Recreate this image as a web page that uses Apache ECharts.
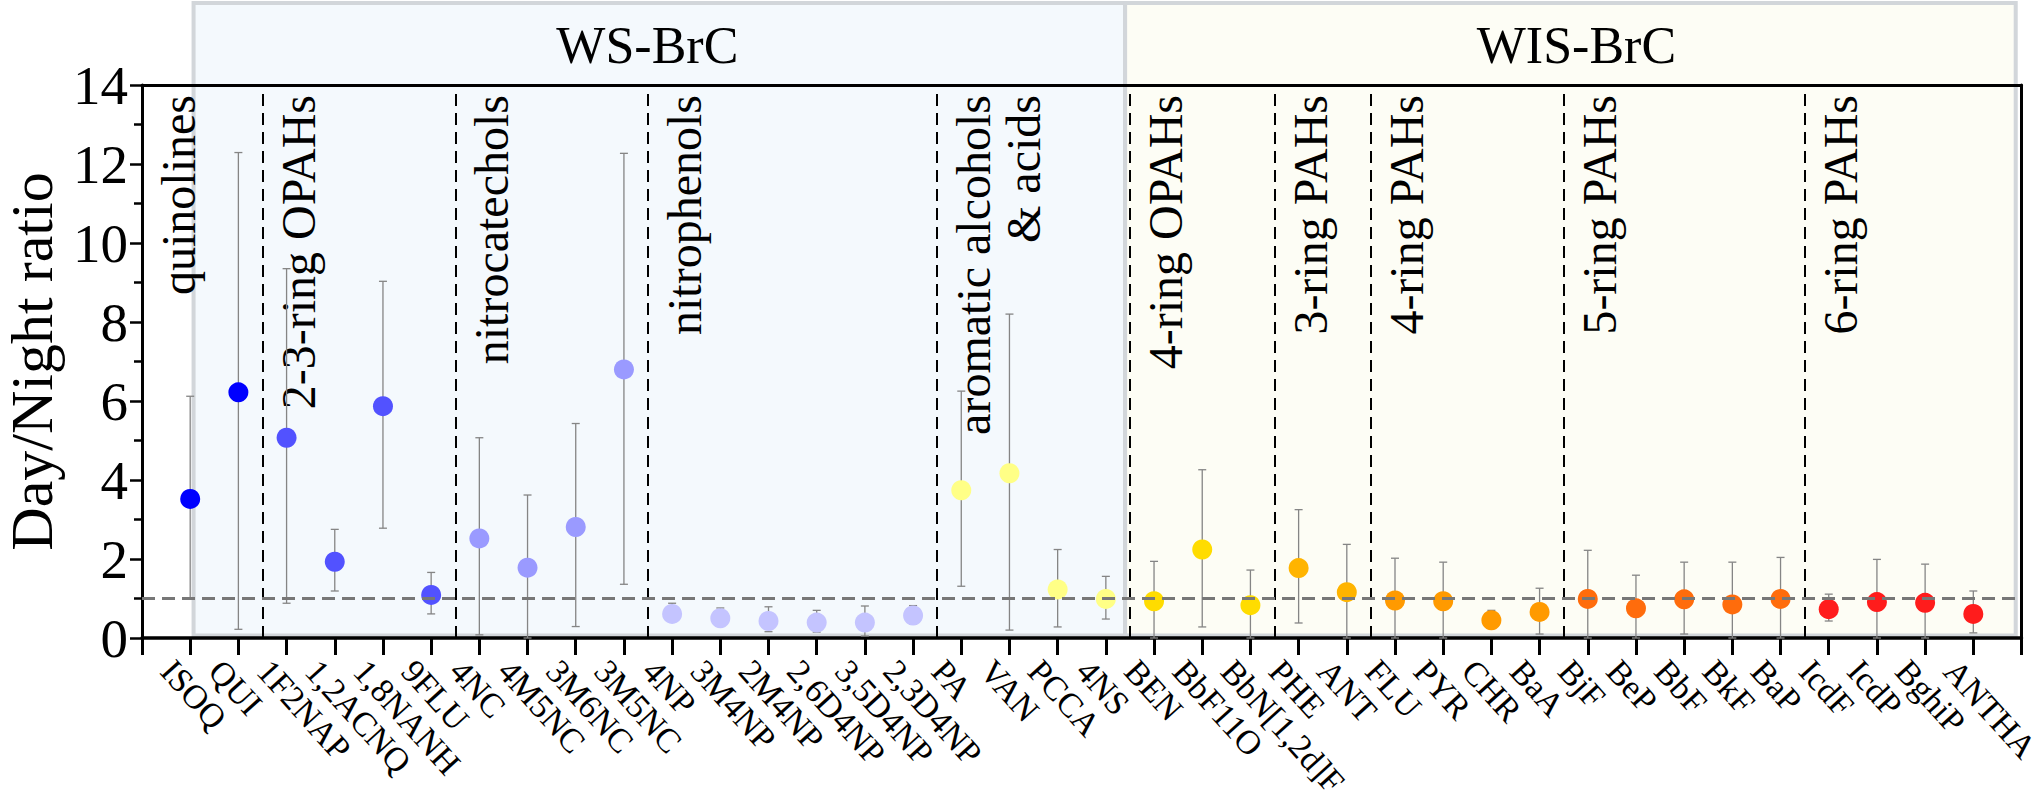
<!DOCTYPE html>
<html><head><meta charset="utf-8">
<script src="https://cdn.jsdelivr.net/npm/echarts@6/dist/echarts.min.js"></script>
<style>html,body{margin:0;padding:0;background:#fff}#c{width:2043px;height:807px}</style>
</head><body><div id="c"></div>
<script>
const categories = ['ISOQ','QUI','1F2NAP','1,2ACNQ','1,8NANH','9FLU','4NC','4M5NC','3M6NC','3M5NC','4NP','3M4NP','2M4NP','2,6D4NP','3,5D4NP','2,3D4NP','PA','VAN','PCCA','4NS','BEN','BbF11O','BbN[1,2d]F','PHE','ANT','FLU','PYR','CHR','BaA','BjF','BeP','BbF','BkF','BaP','IcdF','IcdP','BghiP','ANTHA'];
const ratio = [3.52,6.22,5.07,1.93,5.87,1.09,2.52,1.78,2.81,6.80,0.61,0.50,0.43,0.39,0.39,0.57,3.74,4.17,1.23,0.99,0.93,2.24,0.83,1.77,1.16,0.95,0.93,0.45,0.66,0.99,0.75,0.98,0.85,0.99,0.73,0.91,0.89,0.61];
const upper = [6.12,12.29,9.35,2.75,9.03,1.66,5.07,3.62,5.43,12.27,0.88,0.76,0.79,0.70,0.81,0.82,6.25,8.20,2.24,1.56,1.94,4.26,1.72,3.25,2.37,2.02,1.92,0.70,1.26,2.22,1.59,1.92,1.92,2.04,1.11,1.99,1.87,1.19];
const lower = [1.01,0.22,0.88,1.19,2.78,0.61,0.08,0.00,0.29,1.36,0.40,0.34,0.16,0.15,0.05,0.36,1.31,0.20,0.28,0.48,0.00,0.28,0.00,0.38,0.00,0.00,0.00,0.24,0.10,0.00,0.00,0.10,0.00,0.00,0.43,0.00,0.00,0.13];
const groupNames = ['quinolines','2-3-ring OPAHs','nitrocatechols','nitrophenols','aromatic alcohols\n& acids','4-ring OPAHs','3-ring PAHs','4-ring PAHs','5-ring PAHs','6-ring PAHs'];
const groupSizes = [2,4,4,6,4,3,2,4,5,4];
const regionNames = ['WS-BrC','WIS-BrC'];
const regionGroupCounts = [5,5];
const yTickValues = [0,2,4,6,8,10,12,14];
const referenceRatio = 1;

const groupColors = ['#0000ff','#5252ff','#9a9aff','#c4c4ff','#ffff86','#ffdc00','#ffb400','#ff9a00','#ff6c0c','#ff1c1c'];
const FONT = '"Liberation Serif", "Times New Roman", serif';

// derived
const groupStart = []; const groupOf = [];
let acc = 1;
groupSizes.forEach((s, g) => { groupStart.push(acc); for (let k = 0; k < s; k++) groupOf.push(g); acc += s; });
const nCat = categories.length;
const separators = groupStart.slice(1).map(s => s - 0.5);
const groupLeft = groupStart.map((s, g) => g === 0 ? 0 : s - 0.5);
const regionBounds = [];
let gi = 0;
regionGroupCounts.forEach((c, r) => {
  const first = groupStart[gi]; const lastG = gi + c - 1;
  const last = groupStart[lastG] + groupSizes[lastG] - 1;
  regionBounds.push([first - 0.5, last + 0.5]);
  gi += c;
});

const chart = echarts.init(document.getElementById('c'), null, {renderer: 'svg'});
const yMax = yTickValues[yTickValues.length - 1];
const LABEL_ANGLE = 48 * Math.PI / 180;

const option = {
  animation: false,
  backgroundColor: '#ffffff',
  grid: {left: 142, right: 21.5, top: 85, bottom: 169, containLabel: false, outerBoundsMode: 'none'},
  xAxis: [{
    type: 'value', min: 0, max: nCat + 1, interval: 1, position: 'bottom',
    axisLine: {show: true, onZero: false, lineStyle: {color: '#000', width: 3.5}},
    axisTick: {show: true, length: 17, lineStyle: {color: '#000', width: 3}},
    axisLabel: {show: false},
    splitLine: {show: false}
  }, {
    type: 'value', min: 0, max: nCat + 1, position: 'top',
    axisLine: {show: true, onZero: false, lineStyle: {color: '#000', width: 3}},
    axisTick: {show: false}, axisLabel: {show: false}, splitLine: {show: false}
  }],
  yAxis: [{
    type: 'value', min: 0, max: yMax, interval: 2, position: 'left',
    name: 'Day/Night ratio', nameLocation: 'middle', nameGap: 74,
    nameTextStyle: {color: '#000', fontSize: 60, fontFamily: FONT},
    axisLine: {show: true, onZero: false, lineStyle: {color: '#000', width: 3}},
    axisTick: {show: true, length: 12, lineStyle: {color: '#000', width: 2.5}},
    minorTick: {show: true, splitNumber: 2, length: 8, lineStyle: {color: '#000', width: 2.5}},
    axisLabel: {color: '#000', fontSize: 55, fontFamily: FONT, margin: 14},
    splitLine: {show: false}, minorSplitLine: {show: false}
  }, {
    type: 'value', min: 0, max: yMax, position: 'right',
    axisLine: {show: true, onZero: false, lineStyle: {color: '#000', width: 3}},
    axisTick: {show: false}, axisLabel: {show: false}, splitLine: {show: false}
  }],
  series: [
    {
      name: 'regions', type: 'custom', z: -1, clip: false, silent: true,
      data: regionNames.map((n, r) => [regionBounds[r][0], regionBounds[r][1], r]),
      renderItem: (params, api) => {
        const r = api.value(2);
        const from = r === 0 ? api.value(0) + 0.57 : api.value(0) - 0.1;
        const to = r === regionNames.length - 1 ? api.value(1) + 0.38 : api.value(1) - 0.1;
        const bl = api.coord([from, 0]);
        const tr = api.coord([to, yMax]);
        const top = tr[1] - 82;
        const fills = ['#f4f9fd', '#fdfdf5'];
        return {type: 'group', children: [
          {type: 'rect', shape: {x: bl[0], y: top, width: tr[0] - bl[0], height: bl[1] - 2.5 - top},
            style: {fill: fills[r], stroke: '#d2d6da', lineWidth: 4}},
          {type: 'text', x: (bl[0] + tr[0]) / 2 - (r === 0 ? 12 : -6), y: top + 42,
            style: {text: regionNames[r], fill: '#000', fontSize: 52, fontFamily: FONT, align: 'center', verticalAlign: 'middle'}}
        ]};
      }
    },
    {
      name: 'groups', type: 'custom', z: 1, clip: false, silent: true,
      data: groupNames.map((n, g) => [groupLeft[g], g]),
      renderItem: (params, api) => {
        const g = api.value(1);
        const p = api.coord([api.value(0), yMax]);
        const lines = groupNames[g].split('\n').length;
        return {type: 'text', x: p[0] + 36 + (lines - 1) * 25, y: p[1] + 10, rotation: Math.PI / 2,
          style: {text: groupNames[g], fill: '#000', fontSize: 48, fontFamily: FONT, align: 'right', verticalAlign: 'middle', lineHeight: 50}};
      }
    },
    {
      name: 'categoryLabels', type: 'custom', z: 5, clip: false, silent: true,
      data: categories.map((c, i) => [i + 1, 0]),
      renderItem: (params, api) => {
        const p = api.coord([api.value(0), api.value(1)]);
        return {type: 'text', x: p[0] - 23, y: p[1] + 27, rotation: -LABEL_ANGLE,
          style: {text: categories[params.dataIndex], fill: '#000', fontSize: 34, fontFamily: FONT, align: 'left', verticalAlign: 'middle'}};
      }
    },
    {
      name: 'errors', type: 'custom', z: 2, silent: true,
      data: categories.map((c, i) => [i + 1, lower[i], upper[i]]),
      renderItem: (params, api) => {
        const x = api.value(0);
        const a = api.coord([x, api.value(2)]);
        const b = api.coord([x, api.value(1)]);
        const st = {stroke: '#858585', lineWidth: 1.3};
        return {type: 'group', children: [
          {type: 'line', shape: {x1: a[0], y1: a[1], x2: b[0], y2: b[1]}, style: st},
          {type: 'line', shape: {x1: a[0] - 4, y1: a[1], x2: a[0] + 4, y2: a[1]}, style: st},
          {type: 'line', shape: {x1: b[0] - 4, y1: b[1], x2: b[0] + 4, y2: b[1]}, style: st}
        ]};
      },
      markLine: {
        silent: true, symbol: ['none', 'none'], label: {show: false},
        data: separators.map(v => ({xAxis: v, lineStyle: {color: '#000', width: 2, type: [12, 7]}}))
          .concat([{yAxis: referenceRatio, lineStyle: {color: '#777', width: 2.8, type: [13, 7]}}])
      }
    },
    {
      name: 'ratio', type: 'scatter', z: 3, symbol: 'circle', symbolSize: 20,
      data: categories.map((c, i) => ({value: [i + 1, ratio[i]], itemStyle: {color: groupColors[groupOf[i]], opacity: 1}}))
    }
  ]
};
chart.setOption(option);
</script></body></html>
